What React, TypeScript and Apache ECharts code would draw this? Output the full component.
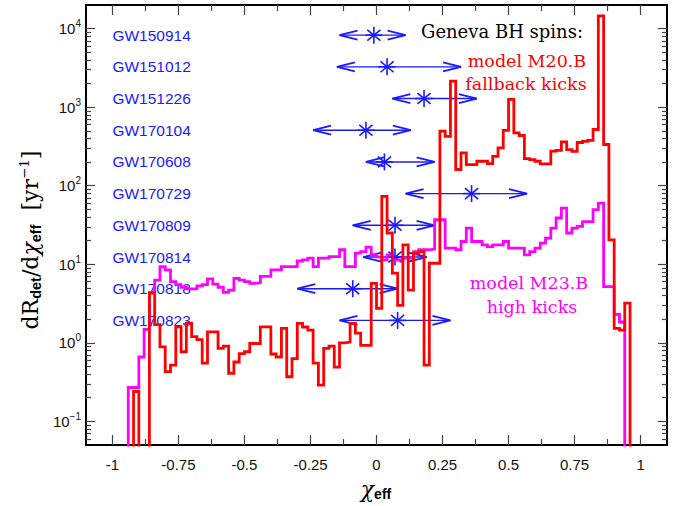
import React, { useEffect, useRef } from 'react';
import * as echarts from 'echarts';

// histogram binning in chi_eff
const BIN_START = -1;
const BIN_WIDTH = 0.02;

// dR_det/dchi_eff [yr^-1], model M20.B (fallback kicks), 100 bins from -1 to 1
const redM20B = [
  0, 0, 0, 0, 0.24, 0, 0, 4.3, 1.7, 0.89,
  0.43, 0.52, 1.6, 0.77, 1.77, 1.2, 1.1, 0.55, 1.38, 1.38,
  0.85, 0.91, 0.41, 0.57, 0.73, 0.77, 0.98, 0.98, 1.6, 1.6,
  0.72, 0.66, 1.53, 0.37, 0.63, 1.77, 1.59, 1.45, 0.55, 0.29,
  0.85, 0.91, 0.49, 1.0, 1.02, 1.77, 1.33, 0.93, 0.93, 5.7,
  2.75, 73, 25, 7.7, 3.0, 17.7, 4.7, 13.8, 14.5, 0.52,
  10.3, 10.3, 495, 424, 2150, 161, 262, 186, 186, 205,
  205, 191, 237, 304, 508, 1260, 472, 436, 222, 215,
  205, 190, 190, 275, 282, 361, 289, 273, 355, 366,
  377, 520, 14560, 335, 20.5, 1.53, 1.45, 3.2, 0, 0,
];

// model M23.B (high kicks)
const magentaM23B = [
  0, 0, 0, 0.27, 0.27, 0.66, 1.48, 4.4, 6.3, 9.3,
  8.5, 6.0, 5.5, 5.1, 4.85, 4.85, 5.3, 5.5, 6.5, 5.6,
  5.1, 4.4, 4.7, 6.6, 6.3, 6.0, 5.7, 5.8, 7.0, 7.0,
  8.5, 8.5, 9.35, 9.35, 9.35, 11.0, 11.4, 12.0, 9.35, 12.0,
  12.0, 12.5, 12.5, 15.3, 9.35, 9.35, 13.9, 14.5, 16.5, 13.2,
  12.4, 11.4, 13.2, 11.4, 11.4, 12.0, 12.0, 14.5, 15.3, 15.3,
  15.6, 36.9, 36.9, 16.1, 16.1, 15.3, 19.5, 28.9, 19.5, 19.5,
  17.7, 16.8, 17.7, 17.7, 19.5, 16.1, 16.1, 16.1, 13.2, 14.5,
  16.1, 18.6, 21.5, 28.9, 38.8, 52, 25, 28.9, 30.3, 35,
  35, 49.5, 60, 5.2, 5.2, 2.3, 1.84, 0, 0, 0,
];

// GW events: chi_eff median and 90% range
const events = ['GW150914', 'GW151012', 'GW151226', 'GW170104', 'GW170608', 'GW170729', 'GW170809', 'GW170814', 'GW170818', 'GW170823'];
const chiEff = [-0.01, 0.04, 0.18, -0.04, 0.03, 0.36, 0.07, 0.07, -0.09, 0.08];
const chiLow = [-0.14, -0.15, 0.06, -0.24, -0.04, 0.11, -0.09, -0.05, -0.30, -0.14];
const chiHigh = [0.11, 0.32, 0.38, 0.13, 0.22, 0.57, 0.22, 0.19, 0.08, 0.28];

const xMajorTicks = [-1, -0.75, -0.5, -0.25, 0, 0.25, 0.5, 0.75, 1];
const xMinorTicks = [-0.875, -0.625, -0.375, -0.125, 0.125, 0.375, 0.625, 0.875];
const yDecades = [-1, 0, 1, 2, 3, 4];

const X_MIN = -1.1;
const X_MAX = 1.1;
const Y_MIN = 0.05;
const Y_MAX = 20000;

const lg = (v: number) => (v > 0 ? Math.log10(v) : -6);

const yMinorTicks: number[] = [];
for (let d = -2; d <= 4; d++) {
  for (let m = 2; m <= 9; m++) {
    const v = m * Math.pow(10, d);
    if (v > Y_MIN * 1.0001 && v < Y_MAX * 0.9999) yMinorTicks.push(Math.log10(v));
  }
}

const histPoints = (vals: number[]) => {
  const pts: number[][] = vals.map((v, k) => [BIN_START + k * BIN_WIDTH, lg(v)]);
  pts.push([BIN_START + vals.length * BIN_WIDTH, lg(0)]);
  return pts;
};

// rows of the event list, in log10 axis units
const ROW0 = 3.917;
const ROW_STEP = 0.4035;

const BLUE = '#1a1aff';
const SANS = 'Liberation Sans, Arial, sans-serif';
const SERIF = 'DejaVu Serif, serif';

export default function App() {
  const ref = useRef<HTMLDivElement>(null);

  useEffect(() => {
    if (!ref.current) return;
    const chart = echarts.init(ref.current, undefined, { renderer: 'svg' });

    const tickStyle = { color: '#444', width: 1.2 };
    const frameLine = { show: true, onZero: false, lineStyle: { color: '#000', width: 2 } };
    const noLine = { show: false, onZero: false };

    const xBase = { type: 'value', min: X_MIN, max: X_MAX, splitLine: { show: false }, gridIndex: 0 };
    const yBase = { type: 'value', min: lg(Y_MIN), max: lg(Y_MAX), splitLine: { show: false }, gridIndex: 0 };

    const yLabel = {
      show: true,
      customValues: yDecades,
      margin: 5,
      formatter: (v: number) => {
        const e = Math.round(v);
        const s = e < 0 ? '\u2212' + Math.abs(e) : String(e);
        return '{b|10}{s|' + s + '}';
      },
      rich: {
        b: { fontFamily: SANS, fontSize: 15, color: '#111', lineHeight: 20 },
        s: { fontFamily: SANS, fontSize: 10, color: '#111', lineHeight: 10, verticalAlign: 'top' },
      },
    };

    const centered = { textAlign: 'center', textVerticalAlign: 'middle', align: 'center', verticalAlign: 'middle' };

    const option: any = {
      animation: false,
      backgroundColor: '#fff',
      grid: { left: 86, top: 5, right: 16, bottom: 61, containLabel: false },
      xAxis: [
        {
          ...xBase, position: 'bottom', axisLine: frameLine,
          axisTick: { show: true, inside: true, length: 10, customValues: xMajorTicks, lineStyle: tickStyle },
          axisLabel: { show: true, customValues: xMajorTicks, formatter: (v: number) => String(v), fontFamily: SANS, fontSize: 15, color: '#111', margin: 12 },
        },
        {
          ...xBase, position: 'bottom', axisLine: noLine,
          axisTick: { show: true, inside: true, length: 6, customValues: xMinorTicks, lineStyle: tickStyle },
          axisLabel: { show: false },
        },
        {
          ...xBase, position: 'top', axisLine: frameLine,
          axisTick: { show: true, inside: true, length: 10, customValues: xMajorTicks, lineStyle: tickStyle },
          axisLabel: { show: false },
        },
        {
          ...xBase, position: 'top', axisLine: noLine,
          axisTick: { show: true, inside: true, length: 6, customValues: xMinorTicks, lineStyle: tickStyle },
          axisLabel: { show: false },
        },
      ],
      yAxis: [
        {
          ...yBase, position: 'left', axisLine: frameLine,
          axisTick: { show: true, inside: true, length: 9, customValues: yDecades, lineStyle: tickStyle },
          axisLabel: yLabel,
        },
        {
          ...yBase, position: 'left', axisLine: noLine,
          axisTick: { show: true, inside: true, length: 5, customValues: yMinorTicks, lineStyle: tickStyle },
          axisLabel: { show: false },
        },
        {
          ...yBase, position: 'right', axisLine: frameLine,
          axisTick: { show: true, inside: true, length: 9, customValues: yDecades, lineStyle: tickStyle },
          axisLabel: { show: false },
        },
        {
          ...yBase, position: 'right', axisLine: noLine,
          axisTick: { show: true, inside: true, length: 5, customValues: yMinorTicks, lineStyle: tickStyle },
          axisLabel: { show: false },
        },
      ],
      series: [
        {
          type: 'custom',
          xAxisIndex: 0,
          yAxisIndex: 0,
          z: 1,
          clip: false,
          encode: { x: 0, y: 1 },
          data: events.map((_, i) => [chiEff[i], ROW0 - ROW_STEP * i, chiLow[i], chiHigh[i], i]),
          renderItem: (params: any, api: any) => {
            const row = api.value(1);
            const c = api.coord([api.value(0), row]);
            const lo = api.coord([api.value(2), row]);
            const hi = api.coord([api.value(3), row]);
            const lab = api.coord([-1, row]);
            const y = c[1];
            const st = { stroke: BLUE, lineWidth: 1.4, fill: null };
            const hL = 18, hW = 4.5;
            const r = 8.5, dx = 6.6, dy = 5.4;
            return {
              type: 'group',
              children: [
                { type: 'line', shape: { x1: lo[0], y1: y, x2: hi[0], y2: y }, style: st },
                { type: 'polyline', shape: { points: [[lo[0] + hL, y - hW], [lo[0], y], [lo[0] + hL, y + hW]] }, style: { ...st, lineWidth: 1.8 } },
                { type: 'polyline', shape: { points: [[hi[0] - hL, y - hW], [hi[0], y], [hi[0] - hL, y + hW]] }, style: { ...st, lineWidth: 1.8 } },
                { type: 'line', shape: { x1: c[0], y1: y - r, x2: c[0], y2: y + r }, style: { ...st, lineWidth: 1.6 } },
                { type: 'line', shape: { x1: c[0] - dx, y1: y - dy, x2: c[0] + dx, y2: y + dy }, style: { ...st, lineWidth: 1.6 } },
                { type: 'line', shape: { x1: c[0] - dx, y1: y + dy, x2: c[0] + dx, y2: y - dy }, style: { ...st, lineWidth: 1.6 } },
                { type: 'line', shape: { x1: c[0] - r, y1: y, x2: c[0] + r, y2: y }, style: { ...st, lineWidth: 1.6 } },
                {
                  type: 'text', x: lab[0], y: lab[1],
                  style: { text: events[api.value(4)], fill: BLUE, font: '15.5px ' + SANS, fontSize: 15.5, fontFamily: SANS, align: 'left', verticalAlign: 'middle', textAlign: 'left', textVerticalAlign: 'middle' },
                },
              ],
            };
          },
        },
        {
          type: 'line', name: 'M23.B', xAxisIndex: 0, yAxisIndex: 0, z: 3,
          data: histPoints(magentaM23B), step: 'end', showSymbol: false, symbol: 'none',
          lineStyle: { color: '#ff00ff', width: 2.8, join: 'miter' }, clip: true,
        },
        {
          type: 'line', name: 'M20.B', xAxisIndex: 0, yAxisIndex: 0, z: 4,
          data: histPoints(redM20B), step: 'end', showSymbol: false, symbol: 'none',
          lineStyle: { color: '#ff0000', width: 2.8, join: 'miter' }, clip: true,
        },
      ],
      graphic: [
        { type: 'text', left: 421, top: 22, style: { text: 'Geneva BH spins:', fill: '#000', font: '18px ' + SERIF } },
        { type: 'text', x: 527, y: 61, style: { text: 'model M20.B', fill: '#ff0000', font: '17.5px ' + SERIF, ...centered } },
        { type: 'text', x: 526, y: 84, style: { text: 'fallback kicks', fill: '#ff0000', font: '17.5px ' + SERIF, ...centered } },
        { type: 'text', x: 529, y: 283, style: { text: 'model M23.B', fill: '#ff00ff', font: '17.5px ' + SERIF, ...centered } },
        { type: 'text', x: 532, y: 307, style: { text: 'high kicks', fill: '#ff00ff', font: '17.5px ' + SERIF, ...centered } },
        {
          type: 'text', x: 376, y: 489,
          style: {
            text: '{c|\u03c7}{e|eff}',
            ...centered,
            rich: {
              c: { fontFamily: SERIF, fontStyle: 'italic', fontSize: 22, fill: '#000', color: '#000', lineHeight: 24 },
              e: { fontFamily: SANS, fontWeight: 'bold', fontSize: 14, fill: '#000', color: '#000', lineHeight: 14, verticalAlign: 'bottom' },
            },
          },
        },
        {
          type: 'text', x: 30, y: 240, rotation: Math.PI / 2,
          style: {
            text: '{m|dR}{s|det}{m|/d}{c|\u03c7}{s|eff}{m|  [yr}{p|\u22121}{m|]}',
            ...centered,
            rich: {
              m: { fontFamily: SERIF, fontSize: 22, fill: '#000', color: '#000', lineHeight: 27 },
              c: { fontFamily: SERIF, fontStyle: 'italic', fontSize: 22, fill: '#000', color: '#000', lineHeight: 27 },
              s: { fontFamily: SANS, fontWeight: 'bold', fontSize: 14.5, fill: '#000', color: '#000', lineHeight: 14, verticalAlign: 'bottom' },
              p: { fontFamily: SERIF, fontSize: 13.5, fill: '#000', color: '#000', lineHeight: 14, verticalAlign: 'top' },
            },
          },
        },
      ],
    };

    chart.setOption(option);
    return () => chart.dispose();
  }, []);

  return <div ref={ref} style={{ position: 'fixed', left: 0, top: 0, width: 683, height: 506, background: '#fff' }} />;
}
